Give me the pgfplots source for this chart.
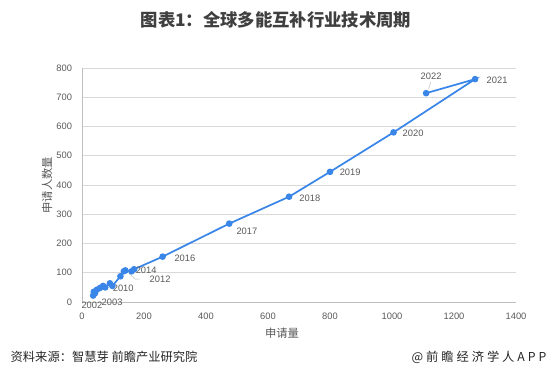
\documentclass[border=0pt]{standalone}
\usepackage{pgfplots}
\pgfplotsset{compat=1.18}
\usepackage{fontspec}
\setmainfont{Liberation Sans}
\newfontfamily\cjk{Noto Sans CJK SC}
\newfontfamily\cjkwide{Noto Sans CJK SC}[LetterSpace=24]
\definecolor{lineblue}{HTML}{3A86E8}
\definecolor{gridgray}{HTML}{D9D9D9}
\definecolor{axgray}{HTML}{BFBFBF}
\definecolor{txtgray}{HTML}{595959}
\definecolor{titlegray}{HTML}{3F3F3F}
\begin{document}
\begin{tikzpicture}[x=0.75pt,y=0.75pt]
\useasboundingbox (0,0) rectangle (552,387);
\begin{axis}[
  at={(82pt*0.75,85pt*0.75)}, anchor=south west,
  scale only axis, width=434*0.75pt, height=234*0.75pt,
  xmin=0, xmax=1400, ymin=0, ymax=800,
  xtick={0,200,...,1400}, ytick={0,100,...,800},
  axis lines=left, axis line style={axgray,-},
  x axis line style={axgray}, y axis line style={axgray},
  ymajorgrids, grid style={gridgray, line width=0.6pt},
  major tick length=0pt,
  tick label style={font=\fontsize{7}{8}\selectfont, text=txtgray},
  /pgf/number format/assume math mode=true,
  /pgf/number format/1000 sep={},
  clip=false,
  xticklabel style={yshift=-5pt},
  yticklabel style={xshift=-4pt},
]
\addplot[lineblue, line width=1.3pt, mark=*, mark size=1.8pt, mark options={fill=lineblue, draw=lineblue}] coordinates {
(36,22) (38,35) (42,30) (48,42) (58,48) (68,55) (75,50) (90,64) (98,55)
(124,88) (135,105) (140,108) (160,105) (168,112)
(260,155) (475,268) (668,360) (800,445) (1005,580) (1268,762) (1110,714)
};
\tikzset{lbl/.style={font=\fontsize{7}{8}\selectfont, text=txtgray, inner sep=0pt}}
\node[lbl] at (axis cs:32,-10) {2002};
\node[lbl] at (axis cs:97,0) {2003};
\node[lbl] at (axis cs:133,48) {2010};
\node[lbl] at (axis cs:207,108) {2014};
\node[lbl] at (axis cs:252,78) {2012};
\draw[axgray, line width=0.4pt] (axis cs:150,100) -- (axis cs:172,78) -- (axis cs:186,78);
\node[lbl] at (axis cs:332,150) {2016};
\node[lbl] at (axis cs:532,243) {2017};
\node[lbl] at (axis cs:735,356) {2018};
\node[lbl] at (axis cs:865,444) {2019};
\node[lbl] at (axis cs:1068,578) {2020};
\node[lbl] at (axis cs:1339,759) {2021};
\node[lbl] at (axis cs:1126,773) {2022};
\draw[axgray, line width=0.4pt] (axis cs:1118,728) -- (axis cs:1125,752);
\end{axis}
\node[font=\cjk\fontsize{13}{15}\selectfont\bfseries, text=titlegray] at (276,367) {图表1：全球多能互补行业技术周期};
\node[font=\cjk\fontsize{8.5}{10}\selectfont, text=txtgray, rotate=90] at (47,202) {申请人数量};
\node[font=\cjk\fontsize{8.5}{10}\selectfont, text=txtgray] at (282,54) {申请量};
\node[font=\cjk\fontsize{9.2}{10}\selectfont, text=black!85, anchor=west] at (6,30) {资料来源：智慧芽 前瞻产业研究院};
\node[font=\cjkwide\fontsize{9.2}{10}\selectfont, text=black!85, anchor=east] at (551,30) {@前瞻经济学人APP};
\end{tikzpicture}
\end{document}
